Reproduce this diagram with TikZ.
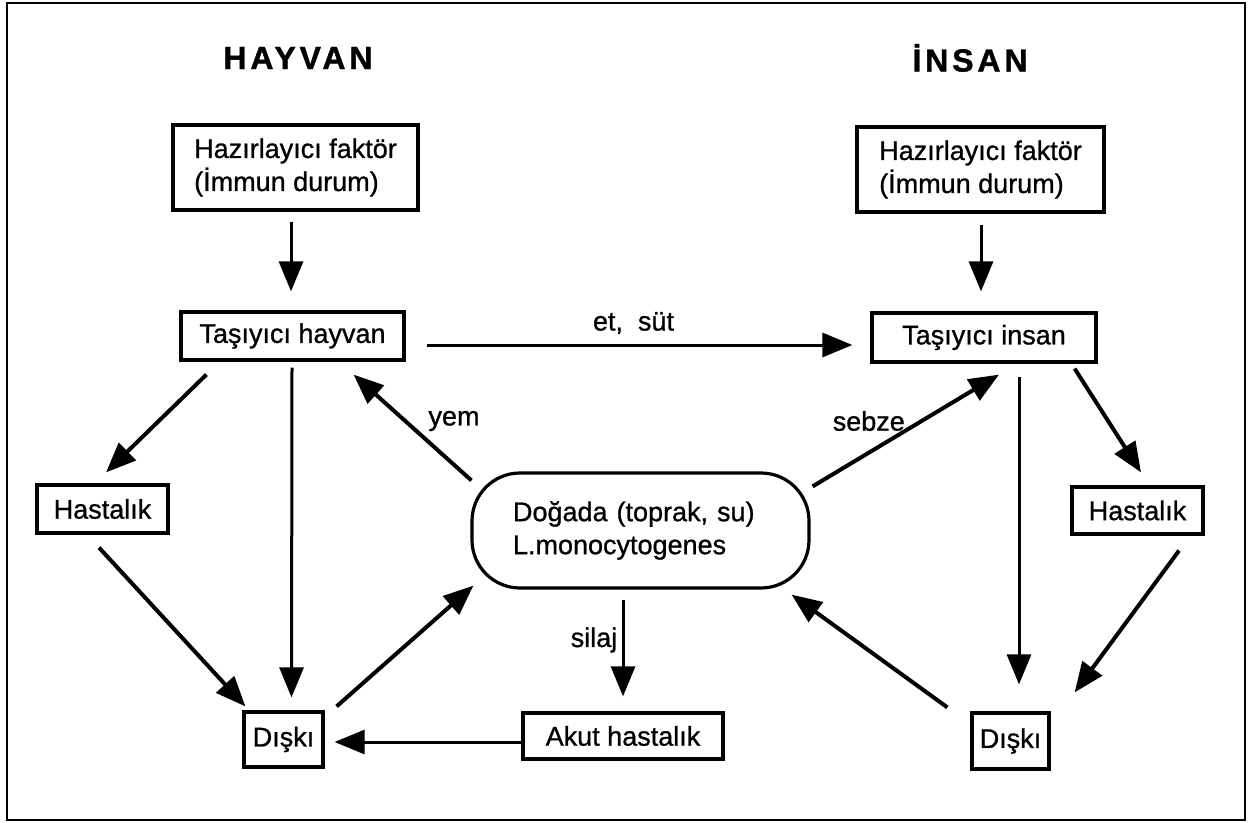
\documentclass[tikz,border=0pt]{standalone}
\usepackage{fontspec}
\setmainfont{Liberation Sans}[FakeBold=0.9]
\newfontfamily\headfont{Liberation Sans Bold}[FakeBold=1.2, LetterSpace=12]
\usetikzlibrary{arrows.meta,calc}

\begin{document}
\begin{tikzpicture}[x=0.5pt,y=-0.5pt,
  font=\fontsize{13.5}{16.5}\selectfont,
  box/.style={draw, line width=1.6pt, inner sep=0pt},
  arr/.style={-{Triangle[length=15pt,width=12pt]}, line width=2pt},
  vertarr/.style={-{Triangle[length=15pt,width=12pt]}, line width=1.5pt},
  head/.style={font=\fontsize{16}{19}\headfont}]
\useasboundingbox (0,0) rectangle (1256,823);
\draw[line width=1.3pt] (7,3) rectangle (1245,820);
\node[head] (hayvan) at (298,58) {HAYVAN};
\node[head] (insan) at (970,58) {İNSAN};
\node[box, minimum width=122.5pt, minimum height=42.5pt, align=left] (hazH) at (295.5,167.5) {Hazırlayıcı faktör\\(İmmun durum)};
\node[box, minimum width=123.5pt, minimum height=42.5pt, align=left] (hazI) at (980.5,169.5) {Hazırlayıcı faktör\\(İmmun durum)};
\node[box, minimum width=111.5pt, minimum height=24pt] (tasH) at (292.5,336) {Taşıyıcı hayvan};
\node[box, minimum width=112pt, minimum height=24.5pt] (tasI) at (984,337.5) {Taşıyıcı insan};
\node[box, minimum width=65.5pt, minimum height=24pt] (hasH) at (102.5,509) {Hastalık};
\node[box, minimum width=65.5pt, minimum height=23.5pt] (hasI) at (1137.5,510.5) {Hastalık};
\node[box, minimum width=39.5pt, minimum height=27.5pt] (disH) at (283.5,739.5) {Dışkı};
\node[box, minimum width=38.5pt, minimum height=28pt] (disI) at (1010.5,741) {Dışkı};
\node[box, minimum width=100pt, minimum height=23pt] (akut) at (623,736) {Akut hastalık};
\node[box, rounded corners=24pt, minimum width=168.5pt, minimum height=57.5pt, text width=127.5pt, align=left] (doga) at (640.5,530.5) {Doğada (toprak, su)\\L.monocytogenes};
\draw[vertarr] ($(hazH.south)+(-4.5,10)$) -- ($(tasH.north)+(-1.5,-19)$);
\draw[vertarr] ($(hazI.south)+(0.5,11)$) -- ($(tasI.north)+(-3,-20)$);
\draw[vertarr] ($(tasH.east)+(21,9)$) -- ($(tasI.west)+(-18,7.5)$) node[midway, xshift=-3pt, yshift=11pt] {et,\ \ süt};
\draw[arr] ($(tasH.south west)+(27,13)$) -- ($(hasH.north)+(3.5,-11)$);
\draw[vertarr] ($(tasH.south)+(-0.5,6)$) -- ($(disH.north)+(8,-13)$);
\draw[arr] ($(hasH.south)+(-3.5,13)$) -- ($(disH.north west)+(3,-4)$);
\draw[arr] ($(doga.north west)+(1,9)$) -- ($(tasH.south east)+(-52,13)$) node[midway, xshift=20.75pt, yshift=3.25pt] {yem};
\draw[arr] ($(doga.north east)+(2,15)$) -- ($(tasI.south)+(15,11)$) node[midway, xshift=-18.5pt, yshift=4.75pt] {sebze};
\draw[vertarr] ($(doga.south)+(-17.5,10)$) -- ($(akut.north)+(0,-15)$) node[midway, xshift=-14.5pt, yshift=4pt] {silaj};
\draw[vertarr] ($(akut.west)+(0,6)$) -- ($(disH.east)+(10,2.5)$);
\draw[arr] ($(disH.north east)+(12,-4)$) -- ($(doga.south west)+(3,-4)$);
\draw[arr] ($(disI.north west)+(-23,-4)$) -- ($(doga.south east)+(-19,5)$);
\draw[vertarr] ($(tasI.south)+(35,13)$) -- ($(disI.north)+(8.5,-27)$);
\draw[arr] ($(tasI.south east)+(-23,5)$) -- ($(hasI.north)+(3.5,-13)$);
\draw[arr] ($(hasI.south)+(41.5,15)$) -- ($(disI.north east)+(24,-19)$);
\end{tikzpicture}
\end{document}
